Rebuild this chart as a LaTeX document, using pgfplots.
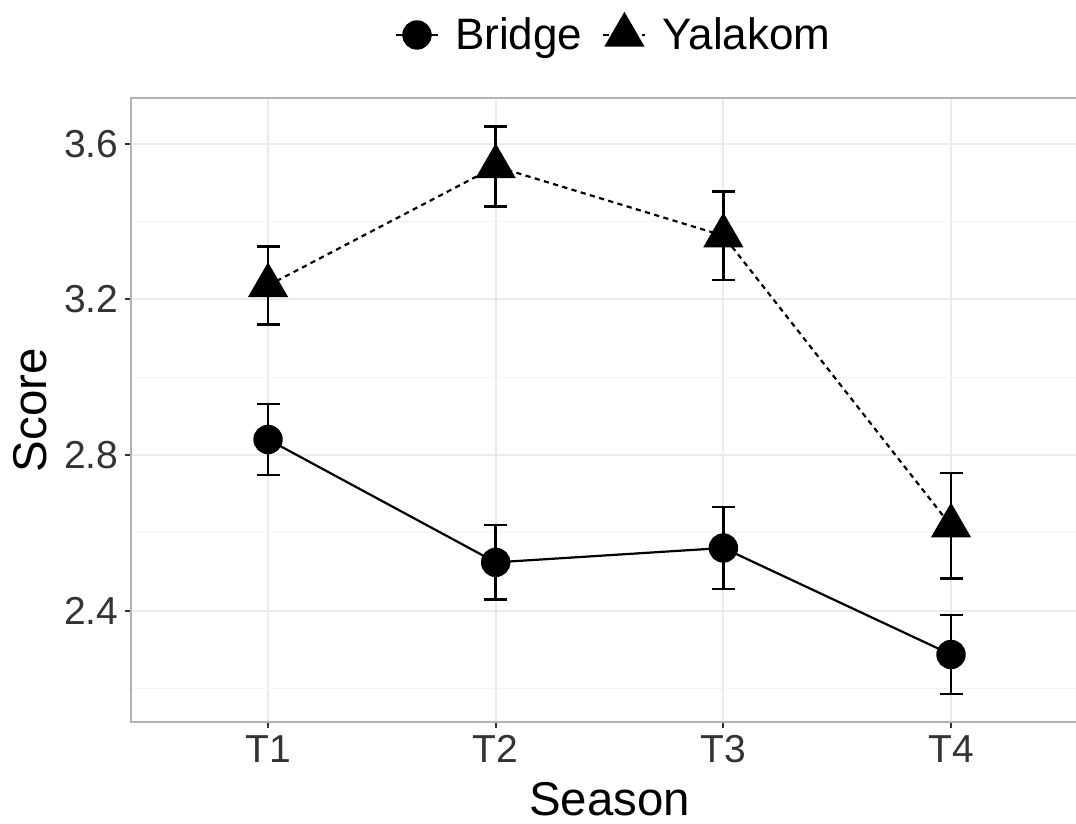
\documentclass[border=0pt]{standalone}
\usepackage{pgfplots}
\pgfplotsset{compat=1.18}
\usepackage{fontspec}
\setmainfont{Liberation Sans}
\definecolor{gridmaj}{HTML}{EBEBEB}
\definecolor{gridmin}{HTML}{F4F4F4}
\definecolor{bordc}{HTML}{B3B3B3}
\definecolor{tickc}{HTML}{333333}
\definecolor{ticklab}{HTML}{333333}

\pgfplotstableread{
x y e
1 2.840 0.091
2 2.524 0.096
3 2.561 0.105
4 2.287 0.101
}\bridge
\pgfplotstableread{
x y e
1 3.236 0.100
2 3.542 0.103
3 3.364 0.114
4 2.618 0.136
}\yalakom

\begin{document}
\begin{tikzpicture}
\begin{axis}[
  scale only axis,
  width=472.15pt, height=312pt,
  xmin=0.4, xmax=4.549,
  ymin=2.113, ymax=3.718,
  xtick={1,2,3,4}, xticklabels={T1,T2,T3,T4},
  ytick={2.4,2.8,3.2,3.6},
  yticklabels={2.4,2.8,3.2,3.6},
  minor ytick={2.2,2.6,3.0,3.4},
  grid=both,
  major grid style={gridmaj, line width=1pt},
  minor grid style={gridmin, line width=0.6pt},
  axis line style={draw=none},
  tick align=outside,
  tick pos=left,
  major tick length=3pt, minor tick length=0pt,
  tick style={tickc, line width=1pt},
  ticklabel style={font=\fontsize{19.5}{20}\selectfont, text=ticklab},
  xlabel={Season}, ylabel={Score},
  label style={font=\fontsize{23.7}{24}\selectfont},
  xlabel style={at={(axis description cs:0.5063,-0.149)}, anchor=base},
  ylabel style={at={(axis description cs:-0.0894,0.5)}, anchor=base},
  clip=false,
  legend style={draw=none, fill=none, at={(0.5095,1.101)}, anchor=center,
    legend columns=-1, font=\fontsize{22}{23}\selectfont,
    nodes={inner xsep=0pt},
    /tikz/every odd column/.append style={column sep=8pt},
    /tikz/every even column/.append style={column sep=10pt}},
  legend image code/.code={\draw[mark repeat=2,mark phase=2,#1] plot coordinates {(0pt,0pt)(10.5pt,0pt)(21pt,0pt)};},
]
\draw[bordc, line width=1pt] (rel axis cs:1,1) -- (rel axis cs:0,1) -- (rel axis cs:0,0) -- (rel axis cs:1,0);
\coordinate (SW) at (rel axis cs:0,0);
\coordinate (NE) at (rel axis cs:1,1);
\addplot[black, line width=1.1pt, mark=*, mark size=6.8pt, mark options={solid},
  error bars/.cd, y dir=both, y explicit,
  error bar style={line width=1.2pt, solid},
  error mark options={rotate=90, line width=1.2pt, mark size=5.75pt, solid}]
  table[x=x, y=y, y error=e] {\bridge};
\addlegendentry{Bridge}
\addplot[black, line width=1.1pt, dash pattern=on 2.6pt off 2.2pt, mark=triangle*, mark size=10.5pt, mark options={solid},
  error bars/.cd, y dir=both, y explicit,
  error bar style={line width=1.2pt, solid},
  error mark options={rotate=90, line width=1.2pt, mark size=5.75pt, solid}]
  table[x=x, y=y, y error=e] {\yalakom};
\addlegendentry{Yalakom}
\end{axis}
\pgfresetboundingbox
\useasboundingbox ([xshift=-65.7pt,yshift=-50.5pt]SW) rectangle ([yshift=49pt]NE);
\end{tikzpicture}
\end{document}
